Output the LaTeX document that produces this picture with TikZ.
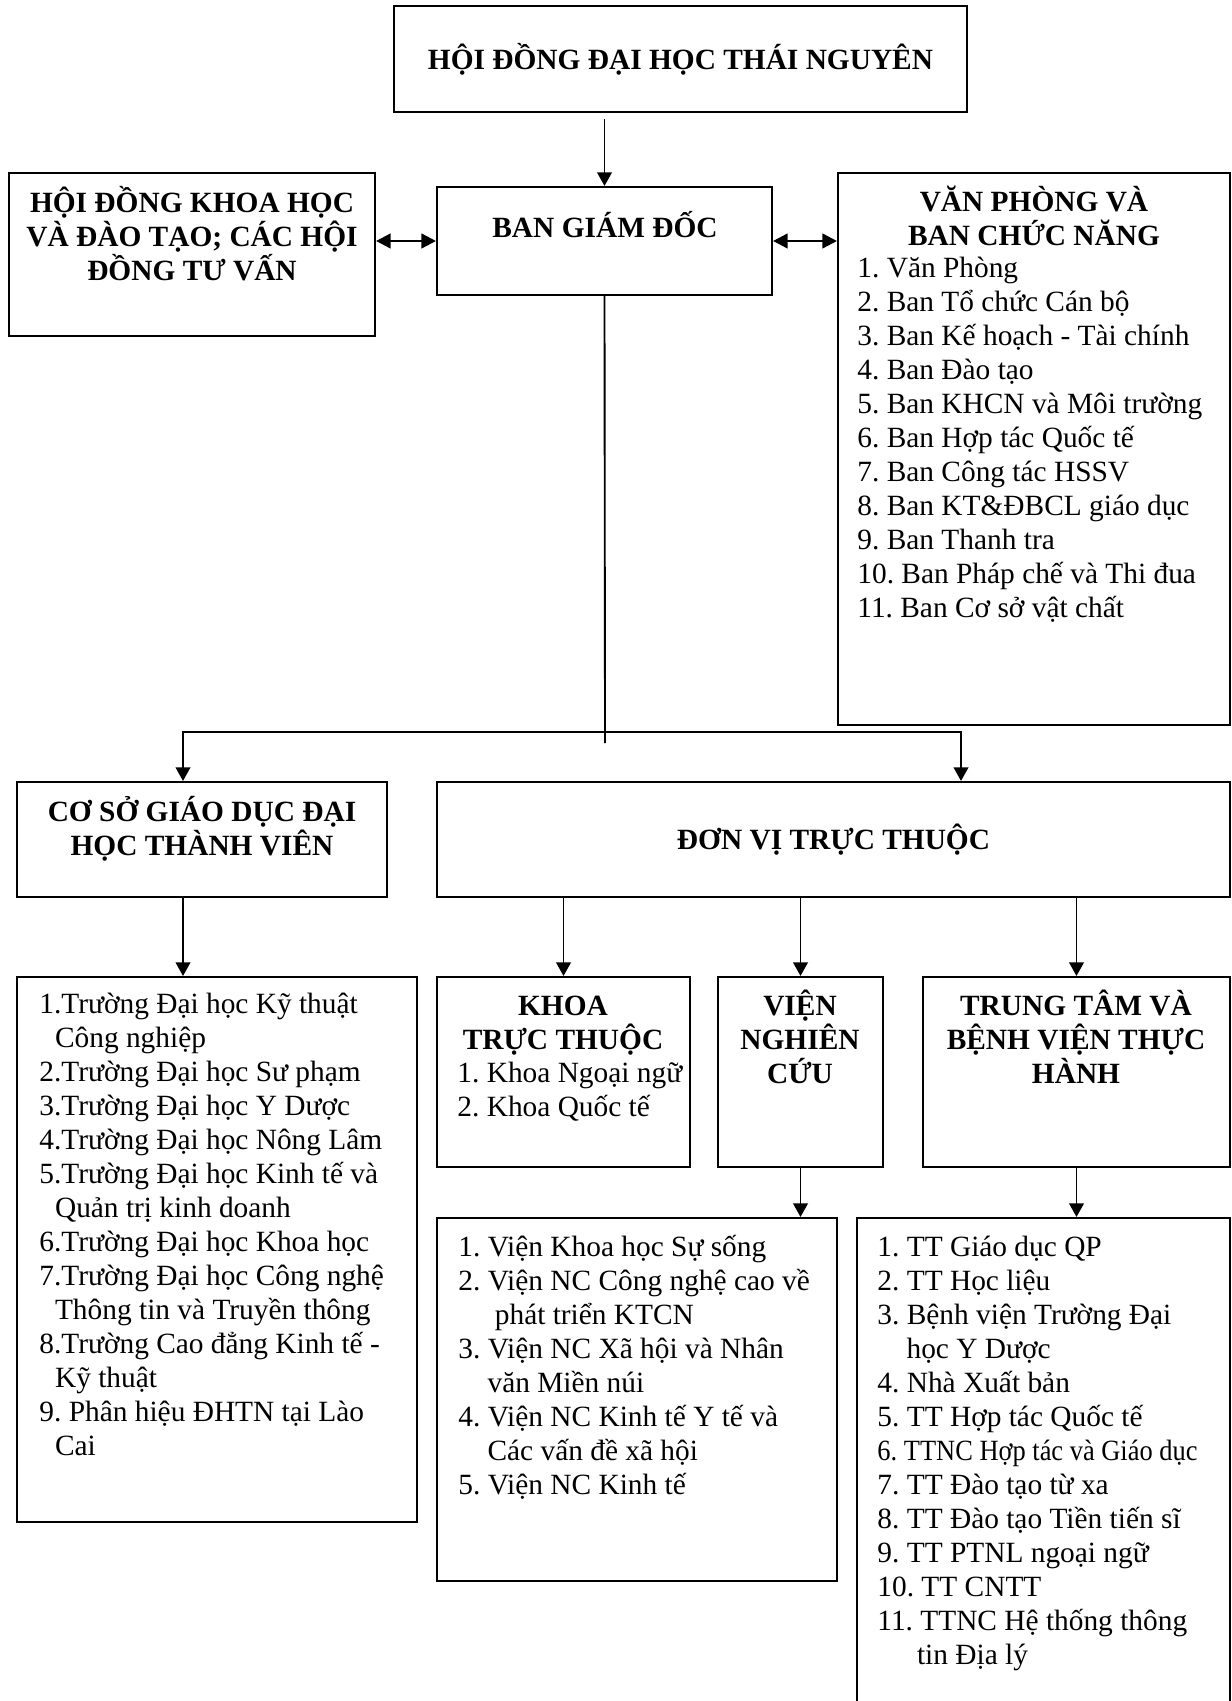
\documentclass[tikz,border=0pt]{standalone}
\usepackage{fontspec}
\usepackage{graphicx}
\setmainfont{Liberation Serif}
\usetikzlibrary{arrows.meta,fit}
\newcommand{\fsz}{\fontsize{14.1}{16.3}\selectfont}
\newcommand{\tp}{\rule{0pt}{14pt}}
\frenchspacing

\begin{document}
\begin{tikzpicture}[x=0.48pt, y=-0.48pt,
    box/.style={draw, line width=1pt, inner sep=0pt},
    head/.style={font=\fsz\bfseries, align=center, inner sep=0pt},
    items/.style={font=\fsz, align=left, anchor=north west, inner sep=0pt},
    arr/.style={-{Triangle[length=6.5pt,width=7pt]}, line width=0.9pt},
    both/.style={{Triangle[length=6.5pt,width=7pt]}-{Triangle[length=6.5pt,width=7pt]}, line width=0.9pt},
    darr/.style={{Triangle[length=7pt,width=7pt]}-{Triangle[length=7pt,width=7pt]}, line width=1.2pt}]
    \useasboundingbox (0,0) rectangle (1231,1701);
    \clip (0,0) rectangle (1231,1701);

    \node[box, fit={(394,6) (967,112)}] (hd) {};
    \node[head] (hdt) at (hd.center) {HỘI ĐỒNG ĐẠI HỌC THÁI NGUYÊN};

    \node[box, fit={(9,173) (375,336)}] (hdkh) {};
    \node[head, anchor=north] (hdkht) at (192,183) {\tp HỘI ĐỒNG KHOA HỌC\\VÀ ĐÀO TẠO; CÁC HỘI\\ĐỒNG TƯ VẤN};

    \node[box, fit={(437,187) (772,295)}] (bgd) {};
    \node[head, anchor=north] (bgdt) at (605,208) {\tp BAN GIÁM ĐỐC};

    \node[box, fit={(838,173) (1230,725)}] (vp) {};
    \node[head, anchor=north] (vpt) at (1034,182) {\tp VĂN PHÒNG VÀ\\BAN CHỨC NĂNG};
    \node[items] (vpl) at (857,248) {\tp 1. Văn Phòng\\2. Ban Tổ chức Cán bộ\\3. Ban Kế hoạch - Tài chính\\4. Ban Đào tạo\\5. Ban KHCN và Môi trường\\6. Ban Hợp tác Quốc tế\\7. Ban Công tác HSSV\\8. Ban KT\&ĐBCL giáo dục\\9. Ban Thanh tra\\10. Ban Pháp chế và Thi đua\\11. Ban Cơ sở vật chất};

    \node[box, fit={(17,782) (387,897)}] (csgd) {};
    \node[head, anchor=north] (csgdt) at (202,792) {\tp CƠ SỞ GIÁO DỤC ĐẠI\\HỌC THÀNH VIÊN};

    \node[box, fit={(437,782) (1230,897)}] (dvtt) {};
    \node[head] (dvttt) at (dvtt.center) {ĐƠN VỊ TRỰC THUỘC};

    \node[box, fit={(17,977) (417,1522)}] (lstl) {};
    \node[items] (lstlt) at (39,984) {\tp 1.Trường Đại học Kỹ thuật\\\hspace*{7.5pt}Công nghiệp\\2.Trường Đại học Sư phạm\\3.Trường Đại học Y Dược\\4.Trường Đại học Nông Lâm\\5.Trường Đại học Kinh tế và\\\hspace*{7.5pt}Quản trị kinh doanh\\6.Trường Đại học Khoa học\\7.Trường Đại học Công nghệ\\\hspace*{7.5pt}Thông tin và Truyền thông\\8.Trường Cao đẳng Kinh tế -\\\hspace*{7.5pt}Kỹ thuật\\9. Phân hiệu ĐHTN tại Lào\\\hspace*{7.5pt}Cai};

    \node[box, fit={(437,977) (690,1167)}] (khoa) {};
    \node[head, anchor=north] (khoat) at (563,986) {\tp KHOA\\TRỰC THUỘC};
    \node[items] (khoal) at (457,1053) {\tp 1. Khoa Ngoại ngữ\\2. Khoa Quốc tế};

    \node[box, fit={(718,977) (883,1167)}] (vien) {};
    \node[head, anchor=north] (vient) at (800,986) {\tp VIỆN\\NGHIÊN\\CỨU};

    \node[box, fit={(923,977) (1230,1167)}] (ttam) {};
    \node[head, anchor=north] (ttamt) at (1076,986) {\tp TRUNG TÂM VÀ\\BỆNH VIỆN THỰC\\HÀNH};

    \node[box, fit={(437,1218) (837,1581)}] (lstv) {};
    \node[items] (lstvt) at (458,1227) {\tp 1. Viện Khoa học Sự sống\\2. Viện NC Công nghệ cao về\\\hspace*{17.5pt}phát triển KTCN\\3. Viện NC Xã hội và Nhân\\\hspace*{14pt}văn Miền núi\\4. Viện NC Kinh tế Y tế và\\\hspace*{14pt}Các vấn đề xã hội\\5. Viện NC Kinh tế};

    \node[box, fit={(857,1218) (1230,1760)}] (lstt) {};
    \node[items] (lsttt) at (877,1227) {\tp 1. TT Giáo dục QP\\2. TT Học liệu\\3. Bệnh viện Trường Đại\\\hspace*{14pt}học Y Dược\\4. Nhà Xuất bản\\5. TT Hợp tác Quốc tế\\\scalebox{0.9}[1]{6. TTNC Hợp tác và Giáo dục}\\7. TT Đào tạo từ xa\\8. TT Đào tạo Tiền tiến sĩ\\9. TT PTNL ngoại ngữ\\10. TT CNTT\\11. TTNC Hệ thống thông\\\hspace*{19pt}tin Địa lý};

    \coordinate (stem) at (605,743);
    \coordinate (forkl) at (183,732);
    \coordinate (forkr) at (961,732);

    \draw[arr, shorten <=3pt] (bgd.north |- hd.south) -- (bgd.north);
    \draw[darr] (hdkh.east |- bgd.west) -- (bgd.west);
    \draw[darr] (bgd.east) -- (bgd.east -| vp.west);
    \draw[line width=0.9pt] (bgd.south) -- (stem);
    \draw[both] (forkl |- csgd.north) -- (forkl) -- (forkr) -- (forkr |- dvtt.north);
    \draw[arr] (csgd.south -| forkl) -- (forkl |- lstl.north);
    \draw[arr] (khoa.north |- dvtt.south) -- (khoa.north);
    \draw[arr] (vien.north |- dvtt.south) -- (vien.north);
    \draw[arr] (ttam.north |- dvtt.south) -- (ttam.north);
    \draw[arr] (vien.south) -- (vien.south |- lstv.north);
    \draw[arr] (ttam.south) -- (ttam.south |- lstt.north);
\end{tikzpicture}
\end{document}
